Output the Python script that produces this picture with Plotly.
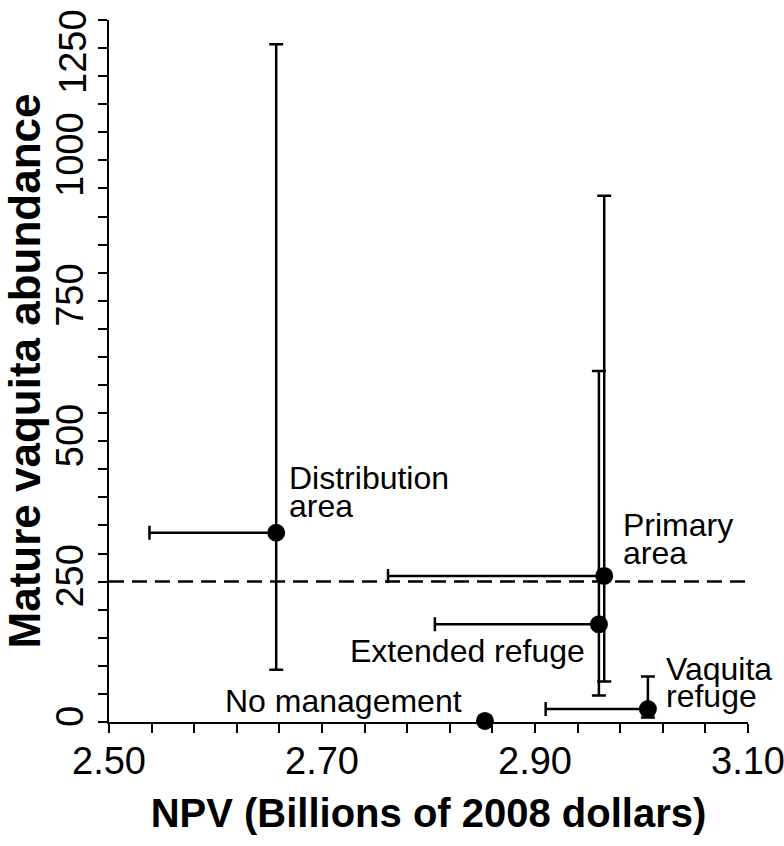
import plotly.graph_objects as go

# Management scenarios for the vaquita: NPV vs mature abundance
scenarios = ["Distribution area", "Primary area", "Extended refuge", "Vaquita refuge", "No management"]
npv = [2.657, 2.965, 2.960, 3.006, 2.853]
npv_low = [2.538, 2.762, 2.806, 2.910, 2.853]
abundance = [337, 260, 174, 23, 2]
abundance_low = [93, 72, 47, 8, 2]
abundance_high = [1207, 937, 625, 81, 2]
threshold = 250

y_ticks = [0, 250, 500, 750, 1000]
y_top = 1250

FONT = "Liberation Sans, Arial, sans-serif"

fig = go.Figure()

fig.add_trace(go.Scatter(
    x=npv,
    y=abundance,
    mode="markers",
    marker=dict(color="black", size=18),
    error_x=dict(
        type="data", symmetric=False,
        array=[0] * len(npv),
        arrayminus=[v - lo for v, lo in zip(npv, npv_low)],
        color="black", thickness=2.5, width=7,
    ),
    error_y=dict(
        type="data", symmetric=False,
        array=[hi - v for v, hi in zip(abundance, abundance_high)],
        arrayminus=[v - lo for v, lo in zip(abundance, abundance_low)],
        color="black", thickness=2.5, width=7,
    ),
    cliponaxis=False,
    showlegend=False,
    hovertext=scenarios,
))

# Threshold line
fig.add_shape(
    type="line", xref="paper", x0=0, x1=1, yref="y", y0=threshold, y1=threshold,
    line=dict(color="black", width=2.5, dash="15px,8px"),
)

# Scenario labels (one annotation per text line, anchored on the point)
labels = [
    # (scenario index, text, xanchor, xshift, yshift)
    (0, "Distribution", "left", 11, 55),
    (0, "area", "left", 11, 27),
    (1, "Primary", "left", 17, 51),
    (1, "area", "left", 17, 23),
    (2, "Extended refuge", "right", -12, -27),
    (4, "No management", "right", -21, 20),
    (3, "Vaquita", "left", 16, 40),
    (3, "refuge", "left", 16, 13),
]
for i, text, anchor, dx, dy in labels:
    fig.add_annotation(
        x=npv[i], y=abundance[i], text=text, showarrow=False,
        xanchor=anchor, yanchor="middle", xshift=dx, yshift=dy,
        font=dict(family=FONT, size=32, color="black"),
    )

# top y tick label sits inside the figure, just below its tick
fig.add_annotation(
    x=0, xref="paper", xanchor="right", xshift=-13,
    y=y_top, yref="y", yanchor="middle", yshift=-32,
    text=str(y_top), textangle=-90, showarrow=False,
    font=dict(family=FONT, size=38, color="black"),
)

axis_common = dict(
    showline=True, linecolor="black", linewidth=2,
    showgrid=False, zeroline=False, automargin=False,
    ticks="outside", ticklen=9, tickwidth=2, tickcolor="black",
    tickfont=dict(family=FONT, size=38, color="black"),
)

fig.update_xaxes(
    range=[2.5, 3.1], tick0=2.5, dtick=0.2, tickformat=".2f",
    ticklabeloverflow="allow", ticklabelstandoff=-5,
    minor=dict(dtick=0.04, tick0=2.5, ticks="outside", ticklen=9, tickwidth=2, tickcolor="black"),
    title=dict(text="NPV (Billions of 2008 dollars)", standoff=18,
               font=dict(family=FONT, size=40, color="black", weight="bold")),
    **axis_common,
)
fig.update_yaxes(
    range=[0, y_top], tickmode="array", tickvals=y_ticks, tickangle=-90,
    minor=dict(dtick=50, tick0=0, ticks="outside", ticklen=9, tickwidth=2, tickcolor="black"),
    title=dict(text="Mature vaquita abundance", standoff=5,
               font=dict(family=FONT, size=44, color="black", weight="bold")),
    **axis_common,
)

fig.update_layout(
    width=784, height=846,
    margin=dict(l=109, r=36, t=20, b=124),
    plot_bgcolor="white", paper_bgcolor="white",
    font=dict(family=FONT, color="black"),
)

fig.write_html(
    "out.html",
    config={"displayModeBar": False},
    post_script="document.body.style.margin = '0';",
)
